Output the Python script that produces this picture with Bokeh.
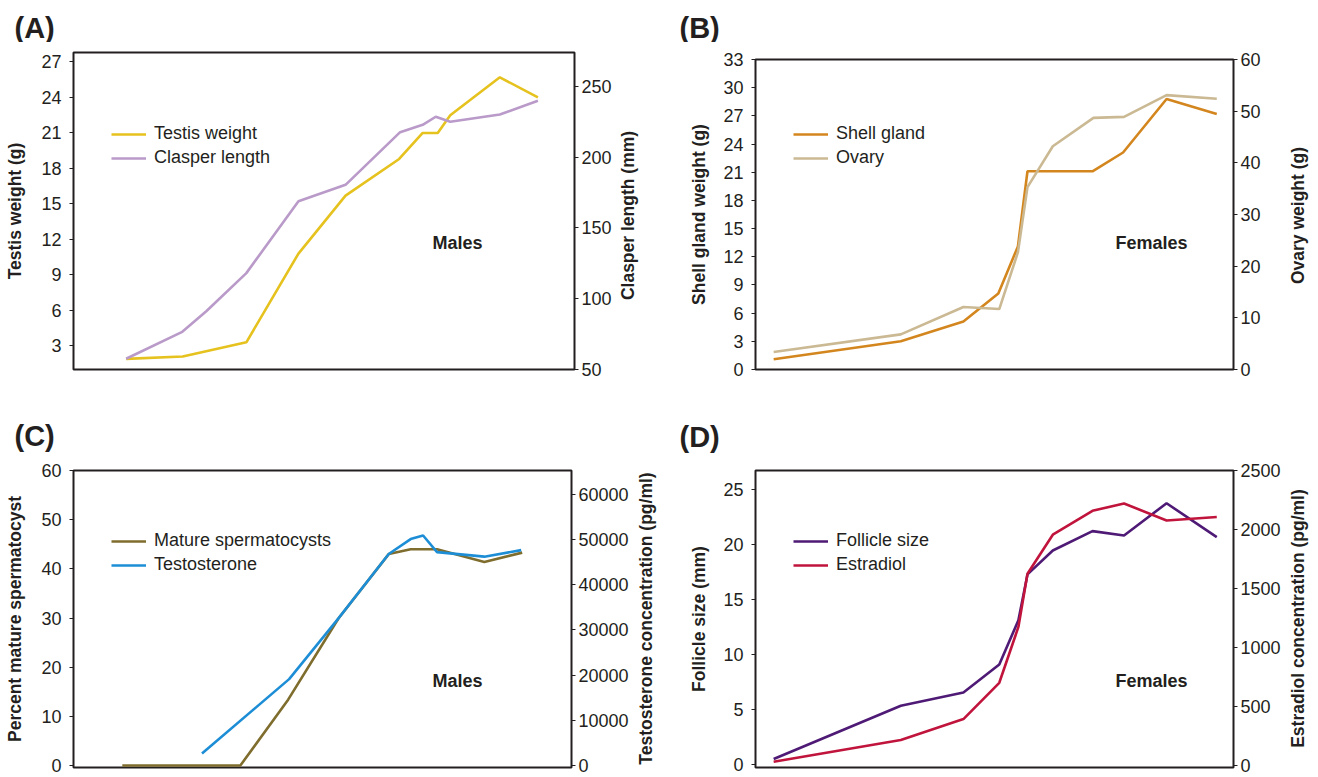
import math
from bokeh.plotting import figure
from bokeh.models import Range1d, LinearAxis, FixedTicker, Legend, LegendItem, Label
from bokeh.layouts import row, column
from bokeh.embed import file_html
from bokeh.resources import INLINE

FONT = "Liberation Sans"
INK = "#231f20"

# ---------------- data ----------------
# (A) Males: testis weight (g, left) and clasper length (mm, right)
a_testis_x = [10.5, 21.8, 34.5, 44.9, 54.3, 65.0, 69.7, 72.7, 75.2, 85.1, 92.7]
a_testis_y = [1.9, 2.1, 3.3, 10.8, 15.7, 18.8, 21.0, 21.0, 22.5, 25.7, 24.0]
a_clasper_x = [10.5, 21.6, 26.5, 34.5, 44.9, 54.3, 65.2, 69.7, 72.3, 75.2, 85.1, 92.7]
a_clasper_y = [57.6, 76.4, 91.2, 118.1, 168.9, 180.5, 217.7, 222.9, 228.6, 225.1, 230.2, 239.9]

# (B) Females: shell gland weight (g, left) and ovary weight (g, right)
b_shell_x = [3.8, 30.4, 43.5, 50.8, 54.9, 56.9, 70.5, 76.9, 86.0, 96.5]
b_shell_y = [1.1, 3.0, 5.1, 8.1, 13.1, 21.1, 21.1, 23.1, 28.8, 27.2]
b_ovary_x = [3.8, 30.4, 43.5, 51.0, 54.9, 56.9, 62.2, 70.7, 77.1, 86.0, 96.5]
b_ovary_y = [3.4, 6.8, 12.1, 11.7, 22.7, 35.3, 43.2, 48.7, 48.9, 53.1, 52.4]

# (C) Males: percent mature spermatocysts (left) and testosterone (pg/ml, right)
c_sperm_x = [9.8, 33.5, 43.1, 53.2, 63.3, 67.7, 73.0, 82.5, 90.1]
c_sperm_y = [0, 0, 13.4, 29.9, 43.0, 44.0, 44.0, 41.4, 43.3]
c_testo_x = [25.8, 43.3, 53.2, 63.3, 67.7, 70.2, 73.0, 82.5, 89.9]
c_testo_y = [2660, 19110, 32540, 46770, 50070, 50860, 47200, 46190, 47630]

# (D) Females: follicle size (mm, left) and estradiol (pg/ml, right)
d_x = [3.8, 30.4, 43.5, 51.0, 55.0, 56.9, 62.2, 70.5, 77.1, 86.0, 96.5]
d_follicle_y = [0.54, 5.37, 6.57, 9.11, 13.12, 17.28, 19.45, 21.2, 20.81, 23.73, 20.66]
d_estradiol_y = [28, 212, 390, 698, 1172, 1624, 1955, 2158, 2220, 2076, 2105]

# tick values
a_left_ticks = [3, 6, 9, 12, 15, 18, 21, 24, 27]
a_right_ticks = [50, 100, 150, 200, 250]
b_left_ticks = [0, 3, 6, 9, 12, 15, 18, 21, 24, 27, 30, 33]
b_right_ticks = [0, 10, 20, 30, 40, 50, 60]
c_left_ticks = [0, 10, 20, 30, 40, 50, 60]
c_right_ticks = [0, 10000, 20000, 30000, 40000, 50000, 60000]
d_left_ticks = [0, 5, 10, 15, 20, 25]
d_right_ticks = [0, 500, 1000, 1500, 2000, 2500]

LW = 2.6
TOTAL_W = 1316
TOP1_H = 42
ROW1_H = 358
TOP2_H = 56
ROW2_H = 320


def no_align(p):
    try:
        p.frame_align = False
    except Exception:
        pass


def style_axis(ax, label, ticks, title_standoff, label_standoff):
    ax.axis_label = label
    ax.ticker = FixedTicker(ticks=ticks)
    ax.axis_line_color = None
    ax.major_tick_line_color = INK
    ax.major_tick_line_width = 1
    ax.major_tick_out = 4
    ax.major_tick_in = 0
    ax.minor_tick_line_color = None
    ax.minor_tick_out = 0
    ax.minor_tick_in = 0
    ax.major_label_text_font = FONT
    ax.major_label_text_font_size = "18px"
    ax.major_label_text_color = INK
    ax.major_label_standoff = label_standoff
    ax.axis_label_text_font = FONT
    ax.axis_label_text_font_size = "17.5px"
    ax.axis_label_text_font_style = "bold"
    ax.axis_label_text_color = INK
    ax.axis_label_standoff = title_standoff


def make_panel(width, height, borders, yl, yr, left_label, left_ticks, right_ticks, lstd=12):
    bl, br, bt, bb = borders
    p = figure(width=width, height=height, output_backend="svg", toolbar_location=None,
               tools="", x_range=Range1d(0, 100), y_range=Range1d(*yl),
               x_axis_location=None, min_border_left=bl, min_border_right=br,
               min_border_top=bt, min_border_bottom=bb, title=None)
    no_align(p)
    p.extra_y_ranges = {"right": Range1d(*yr)}
    p.grid.visible = False
    p.outline_line_color = INK
    p.outline_line_width = 2
    p.background_fill_color = "white"
    p.border_fill_color = "white"
    style_axis(p.yaxis[0], left_label, left_ticks, lstd, 8)
    rax = LinearAxis(y_range_name="right")
    style_axis(rax, None, right_ticks, 0, 3)
    p.add_layout(rax, "right")
    return p


def blank(width, height):
    s = figure(width=width, height=height, output_backend="svg", toolbar_location=None,
               tools="", x_range=Range1d(0, 1), y_range=Range1d(0, 1),
               x_axis_location=None, y_axis_location=None, title=None,
               min_border_left=0, min_border_right=0, min_border_top=0, min_border_bottom=0)
    no_align(s)
    s.grid.visible = False
    s.outline_line_color = None
    s.background_fill_color = "white"
    s.border_fill_color = "white"
    return s


def make_side_title(width, height, text, x, y):
    s = blank(width, height)
    s.add_layout(Label(x=x, y=y, x_units="screen", y_units="screen", text=text,
                       angle=math.pi / 2, text_font=FONT, text_font_size="17.5px",
                       text_font_style="bold", text_color=INK, text_align="center",
                       text_baseline="middle"))
    return s


def add_tag(s, text, x, y):
    s.add_layout(Label(x=x, y=y, x_units="screen", y_units="screen", text=text,
                       text_font=FONT, text_font_size="29px", text_font_style="bold",
                       text_color=INK, text_align="left", text_baseline="middle"))


def add_legend(p, items, x, y):
    leg = Legend(items=[LegendItem(label=l, renderers=[r]) for l, r in items],
                 location=(x, y), orientation="vertical")
    leg.border_line_color = None
    leg.background_fill_alpha = 0
    leg.padding = 0
    leg.margin = 0
    leg.spacing = 3
    leg.glyph_width = 35
    leg.glyph_height = 20
    leg.label_height = 20
    leg.label_standoff = 8
    leg.label_text_font = FONT
    leg.label_text_font_size = "18px"
    leg.label_text_color = INK
    p.add_layout(leg)


def add_text(p, text, x, y):
    p.add_layout(Label(x=x, y=y, x_units="screen", y_units="screen", text=text,
                       text_font=FONT, text_font_size="18px", text_font_style="bold",
                       text_color=INK, text_align="center", text_baseline="middle"))


# ---------------- panel tags ----------------
top1 = blank(TOTAL_W, TOP1_H)
add_tag(top1, "(A)", 14, 15)
add_tag(top1, "(B)", 679, 15)
top2 = blank(TOTAL_W, TOP2_H)
add_tag(top2, "(C)", 14, 21)
add_tag(top2, "(D)", 679, 20)

# ---------------- panel A ----------------
pA = make_panel(616, ROW1_H, (73, 42, 10, 31), (1.0, 27.8), (50, 274),
                "Testis weight (g)", a_left_ticks, a_right_ticks, 13)
rA1 = pA.line(a_testis_x, a_testis_y, line_color="#e6c21e", line_width=LW)
rA2 = pA.line(a_clasper_x, a_clasper_y, line_color="#b99ac9", line_width=LW, y_range_name="right")
add_legend(pA, [("Testis weight", rA1), ("Clasper length", rA2)], 38, 201)
add_text(pA, "Males", 384, 127)
sA = make_side_title(28, ROW1_H, "Clasper length (mm)", 11.5, 185)

# ---------------- panel B ----------------
pB = make_panel(641, ROW1_H, (111, 52, 17, 31), (0, 33), (0, 60),
                "Shell gland weight (g)", b_left_ticks, b_right_ticks, 11)
rB1 = pB.line(b_shell_x, b_shell_y, line_color="#d4861e", line_width=LW)
rB2 = pB.line(b_ovary_x, b_ovary_y, line_color="#cbb994", line_width=LW, y_range_name="right")
add_legend(pB, [("Shell gland", rB1), ("Ovary", rB2)], 38, 201)
add_text(pB, "Females", 396, 127)
sB = make_side_title(31, ROW1_H, "Ovary weight (g)", 12.5, 185)

# ---------------- panel C ----------------
pC = make_panel(631, ROW2_H, (73, 57, 14, 9), (-0.4, 60), (-430, 65240),
                "Percent mature spermatocyst", c_left_ticks, c_right_ticks, 13)
rC1 = pC.line(c_sperm_x, c_sperm_y, line_color="#7f6d2e", line_width=LW)
rC2 = pC.line(c_testo_x, c_testo_y, line_color="#1d8ed6", line_width=LW, y_range_name="right")
add_legend(pC, [("Mature spermatocysts", rC1), ("Testosterone", rC2)], 38, 192)
add_text(pC, "Males", 384, 87)
sC = make_side_title(33, ROW2_H, "Testosterone concentration (pg/ml)", 14, 158)

# ---------------- panel D ----------------
pD = make_panel(621, ROW2_H, (91, 52, 14, 9), (-0.23, 26.7), (-21, 2500),
                "Follicle size (mm)", d_left_ticks, d_right_ticks, 11)
rD1 = pD.line(d_x, d_follicle_y, line_color="#4e1a75", line_width=LW)
rD2 = pD.line(d_x, d_estradiol_y, line_color="#c0143c", line_width=LW, y_range_name="right")
add_legend(pD, [("Follicle size", rD1), ("Estradiol", rD2)], 38, 192)
add_text(pD, "Females", 396, 87)
sD = make_side_title(31, ROW2_H, "Estradiol concentration (pg/ml)", 12.5, 158)

layout = column(top1, row(pA, sA, pB, sB), top2, row(pC, sC, pD, sD))
open("out.html", "w").write(file_html(layout, INLINE))
